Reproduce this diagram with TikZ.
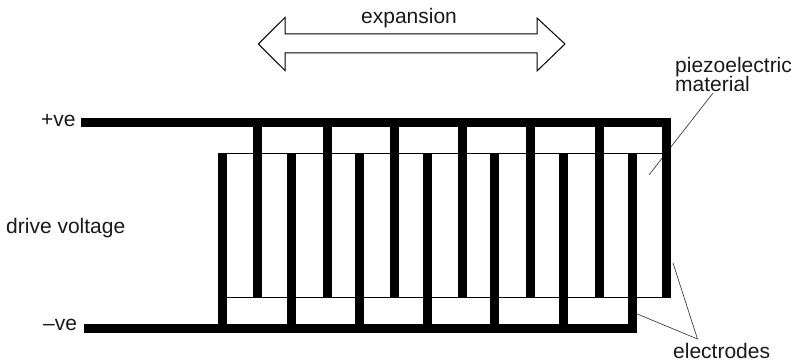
\documentclass[tikz,border=0pt]{standalone}
\usepackage{fontspec}
\setmainfont{Liberation Sans}
\tikzset{
  bar/.style={line width=9pt,line cap=butt},
  thin rule/.style={line width=1pt},
  leader/.style={line width=0.7pt,draw=black!75},
  lab/.style={inner sep=0pt,anchor=base west,text=black!90,font=\fontsize{21}{21}\selectfont},
  outline/.style={line width=1pt,fill=white,line join=miter}
}
\begin{document}
\begin{tikzpicture}[x=1pt,y=-1pt]
\useasboundingbox (0,0) rectangle (800,361);
% leader lines, behind the electrodes
\coordinate (pmA) at (713,93);
\coordinate (pmB) at (649,175);
\coordinate (elTip) at (697.5,339);
\coordinate (elA) at (673,263);
\coordinate (elB) at (630,311);
\draw[leader] (pmA) -- (pmB);
\draw[leader] (elTip) -- (elA);
\draw[leader] (elTip) -- (elB);
% material outline
\draw[thin rule] (218,153.3) -- (662,153.3);
\draw[thin rule] (227,297.3) -- (662,297.3);
% +ve electrode
\draw[bar] (81,122.5) -- (671,122.5);
\foreach \x in {257.5,327.3,394.3,462.3,530.3,599.3}
  \draw[bar] (\x,122) -- (\x,297.5);
\draw[bar] (666.5,118) -- (666.5,298);
% -ve electrode
\draw[bar] (84,328.5) -- (637,328.5);
\foreach \x in {222.5,291.7,359.3,427.3,494.3,563.3,632.5}
  \draw[bar] (\x,153) -- (\x,329);
% expansion arrow
\draw[outline] (258.3,44) -- (285,17.5) -- (285,34) -- (537,34) -- (537,18) -- (565,44)
  -- (537,71) -- (537,53) -- (285,53) -- (285,70.5) -- cycle;
% labels
\node[lab] (expansion) at (361,23.5) {expansion};
\node[lab] (plus) at (41,126.5) {+ve};
\node[lab] (minus) at (43,330.5) {–ve};
\node[lab] (drive) at (6,233) {drive voltage};
\node[lab] (piezo) at (675,72) {piezoelectric};
\node[lab] (material) at (675,91.5) {material};
\node[lab] (electrodes) at (673,358) {electrodes};
\end{tikzpicture}
\end{document}
